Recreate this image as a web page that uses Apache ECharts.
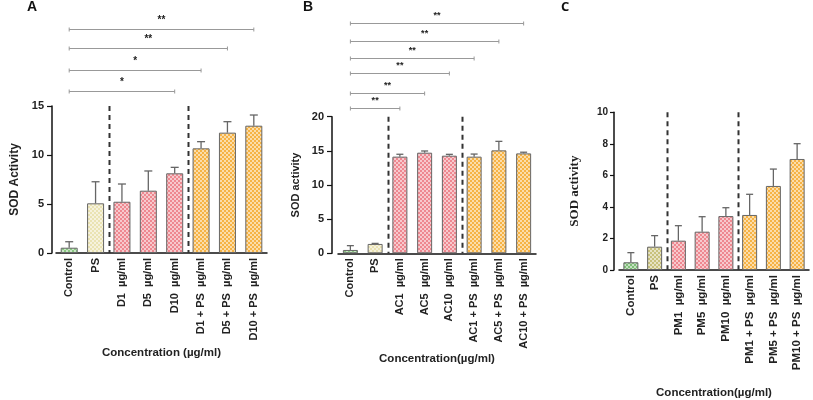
<!DOCTYPE html>
<html>
<head>
<meta charset="utf-8">
<script src="https://cdn.jsdelivr.net/npm/echarts@6/dist/echarts.min.js"></script>
<style>
  html, body { margin: 0; padding: 0; background: #fff; }
  #main { width: 813px; height: 400px; }
</style>
</head>
<body>
<div id="main"></div>
<script>
// categories
var catsA = ['Control', 'PS', 'D1  µg/ml', 'D5  µg/ml', 'D10  µg/ml', 'D1 + PS  µg/ml', 'D5 + PS  µg/ml', 'D10 + PS  µg/ml'];
var catsB = ['Control', 'PS', 'AC1  µg/ml', 'AC5  µg/ml', 'AC10  µg/ml', 'AC1 + PS  µg/ml', 'AC5 + PS  µg/ml', 'AC10 + PS  µg/ml'];
var catsC = ['Control', 'PS', 'PM1  µg/ml', 'PM5  µg/ml', 'PM10  µg/ml', 'PM1 + PS  µg/ml', 'PM5 + PS  µg/ml', 'PM10 + PS  µg/ml'];
// which colour group each bar belongs to
var groups = ['ctrl', 'ps', 'trt', 'trt', 'trt', 'mix', 'mix', 'mix'];
// SOD means and SD (upper error only)
var meanA = [0.54, 5.07, 5.23, 6.36, 8.13, 10.68, 12.28, 12.99];
var sdA   = [0.61, 2.20, 1.81, 2.01, 0.61, 0.68, 1.12, 1.09];
var meanB = [0.49, 1.37, 14.15, 14.73, 14.29, 14.15, 15.07, 14.63];
var sdB   = [0.63, 0.08, 0.35, 0.25, 0.20, 0.38, 1.32, 0.17];
var meanC = [0.49, 1.48, 1.86, 2.43, 3.42, 3.49, 5.33, 7.04];
var sdC   = [0.61, 0.70, 0.95, 0.95, 0.53, 1.31, 1.07, 0.97];
// significance brackets: [from, to, level (y units), stars]
var sigA = [[0, 4, 16.5, '*'], [0, 5, 18.64, '*'], [0, 6, 20.89, '**'], [0, 7, 22.83, '**']];
var sigB = [[0, 2, 21.23, '**'], [0, 3, 23.51, '**'], [0, 4, 26.44, '**'], [0, 5, 28.6, '**'], [0, 6, 31.04, '**'], [0, 7, 33.76, '**']];
var sigC = [];
// dashed dividers after these category indexes
var dividers = [1, 4];
// y axis ticks
var yMax = [15, 20, 10];
var yStep = [5, 5, 2];

var FONT = 'Liberation Sans, Arial, sans-serif';

function pattern(base) {
  var c = document.createElement('canvas');
  c.width = 4; c.height = 4;
  var g = c.getContext('2d');
  g.fillStyle = base;
  g.fillRect(0, 0, 4, 4);
  g.fillStyle = 'rgba(255,255,255,0.55)';
  g.fillRect(0, 0, 2, 2);
  g.fillRect(2, 2, 2, 2);
  return { image: c, repeat: 'repeat' };
}

var pats = {
  ctrl: pattern('#8ac883'),
  ps: pattern('#eae3b3'),
  trt: pattern('#ee8890'),
  mix: pattern('#f6b345')
};
var patsC = {
  ctrl: pattern('#7fbf78'),
  ps: pattern('#c8c17c'),
  trt: pattern('#ee8890'),
  mix: pattern('#f6b345')
};

var chart = echarts.init(document.getElementById('main'), null, { renderer: 'canvas' });

var panels = [
  { cats: catsA, mean: meanA, sd: sdA, sig: sigA, pats: pats, barW: 17, cap: 8, starSize: 10, starGap: 4 },
  { cats: catsB, mean: meanB, sd: sdB, sig: sigB, pats: pats, barW: 15, cap: 7, starSize: 9, starGap: 3 },
  { cats: catsC, mean: meanC, sd: sdC, sig: sigC, pats: patsC, barW: 15, cap: 7, starSize: 9, starGap: 3 }
];

var grids = [
  { left: 56, top: 106, width: 211, height: 147 },
  { left: 338, top: 116.7, width: 198, height: 136.6 },
  { left: 619, top: 112.3, width: 190, height: 157.7 }
];

var xNames = ['Concentration (µg/ml)', 'Concentration(µg/ml)', 'Concentration(µg/ml)'];
var yNames = ['SOD Activity', 'SOD activity', 'SOD activity'];
var xNameGap = [94, 98, 117];
var xLabelSize = [11, 11, 11.5];
var yOffset = [4, 6, 5];
var yTickLen = [5, 5, 4];
var yLabelMargin = [8, 8, 6];

var xAxes = [], yAxes = [], series = [];

panels.forEach(function (p, i) {
  xAxes.push({
    type: 'category',
    gridIndex: i,
    data: p.cats,
    axisLine: { lineStyle: { color: '#111', width: 1.5 } },
    axisTick: { alignWithLabel: true, length: 4, lineStyle: { color: '#111', width: 1.2 } },
    axisLabel: {
      rotate: 90, interval: 0, margin: 5,
      fontSize: xLabelSize[i], fontWeight: 'bold', color: '#222', fontFamily: FONT
    },
    name: xNames[i],
    nameLocation: 'middle',
    nameGap: xNameGap[i],
    nameTextStyle: { fontSize: 11.5, fontWeight: 'bold', color: '#222', fontFamily: FONT }
  });
  yAxes.push({
    type: 'value',
    gridIndex: i,
    min: 0,
    max: yMax[i],
    interval: yStep[i],
    offset: yOffset[i],
    splitLine: { show: false },
    axisLine: { show: true, lineStyle: { color: '#111', width: 1.5 } },
    axisTick: { show: true, length: yTickLen[i], lineStyle: { color: '#111', width: 1.2 } },
    axisLabel: {
      margin: yLabelMargin[i], fontSize: i === 2 ? 10 : 11, fontWeight: 'bold', color: '#222', fontFamily: FONT
    },
    name: yNames[i],
    nameLocation: 'middle',
    nameGap: i === 2 ? 33 : 31,
    nameTextStyle: i === 2
      ? { fontSize: 13, fontWeight: 'bold', color: '#222', fontFamily: 'Liberation Serif, Times New Roman, serif' }
      : { fontSize: i === 0 ? 12 : 11, fontWeight: 'bold', color: '#222', fontFamily: FONT }
  });

  // bars
  series.push({
    type: 'bar',
    xAxisIndex: i,
    yAxisIndex: i,
    barWidth: p.barW,
    data: p.mean.map(function (v, k) {
      return { value: v, itemStyle: { color: p.pats[groups[k]] } };
    }),
    itemStyle: { borderColor: '#666', borderWidth: 1 },
    silent: true,
    z: 2
  });

  // error bars
  series.push({
    type: 'custom',
    xAxisIndex: i,
    yAxisIndex: i,
    encode: { x: 0, y: [1, 2] },
    data: p.mean.map(function (v, k) { return [k, v, v + p.sd[k]]; }),
    renderItem: function (params, api) {
      var lo = api.coord([api.value(0), api.value(1)]);
      var hi = api.coord([api.value(0), api.value(2)]);
      var st = { stroke: '#666', lineWidth: 1.3 };
      return {
        type: 'group',
        children: [
          { type: 'line', shape: { x1: lo[0], y1: lo[1], x2: hi[0], y2: hi[1] }, style: st },
          { type: 'line', shape: { x1: hi[0] - p.cap / 2, y1: hi[1], x2: hi[0] + p.cap / 2, y2: hi[1] }, style: st }
        ]
      };
    },
    silent: true,
    z: 3
  });

  // dashed dividers
  series.push({
    type: 'custom',
    xAxisIndex: i,
    yAxisIndex: i,
    encode: { x: 0, y: 1 },
    data: dividers.map(function (d) { return [d, yMax[i]]; }),
    renderItem: function (params, api) {
      var a = api.coord([api.value(0), api.value(1)]);
      var b = api.coord([api.value(0) + 1, 0]);
      var x = Math.round((a[0] + b[0]) / 2) + 0.5;
      return {
        type: 'line',
        shape: { x1: x, y1: a[1], x2: x, y2: b[1] },
        style: { stroke: '#333', lineWidth: 2, lineDash: [5, 4] }
      };
    },
    silent: true,
    z: 3
  });

  // significance brackets
  if (p.sig.length) {
    series.push({
      type: 'custom',
      xAxisIndex: i,
      yAxisIndex: i,
      encode: { x: [0, 1], y: 2 },
      data: p.sig.map(function (s) { return [s[0], s[1], s[2]]; }),
      renderItem: function (params, api) {
        var a = api.coord([api.value(0), api.value(2)]);
        var b = api.coord([api.value(1), api.value(2)]);
        var y = Math.round(a[1]) + 0.5;
        var st = { stroke: '#999', lineWidth: 1 };
        var stars = p.sig[params.dataIndex][3];
        return {
          type: 'group',
          children: [
            { type: 'line', shape: { x1: a[0], y1: y, x2: b[0], y2: y }, style: st },
            { type: 'line', shape: { x1: a[0], y1: y - 2, x2: a[0], y2: y + 2 }, style: st },
            { type: 'line', shape: { x1: b[0], y1: y - 2, x2: b[0], y2: y + 2 }, style: st },
            {
              type: 'text',
              style: {
                x: (a[0] + b[0]) / 2, y: y - p.starGap, text: stars,
                align: 'center', verticalAlign: 'bottom',
                font: 'bold ' + p.starSize + 'px ' + FONT, fill: '#222'
              }
            }
          ]
        };
      },
      silent: true,
      clip: false,
      z: 3
    });
  }
});

chart.setOption({
  animation: false,
  backgroundColor: '#fff',
  title: [
    { text: 'A', left: 27, top: 0, padding: 0, textStyle: { fontSize: 14, fontWeight: 'bold', color: '#111', fontFamily: FONT } },
    { text: 'B', left: 303, top: 0, padding: 0, textStyle: { fontSize: 14, fontWeight: 'bold', color: '#111', fontFamily: FONT } },
    { text: 'C', left: 561, top: 1, padding: 0, textStyle: { fontSize: 13, fontWeight: 'bold', color: '#111', fontFamily: 'Open Sans, ' + FONT } }
  ],
  grid: grids,
  xAxis: xAxes,
  yAxis: yAxes,
  series: series
});
</script>
</body>
</html>
